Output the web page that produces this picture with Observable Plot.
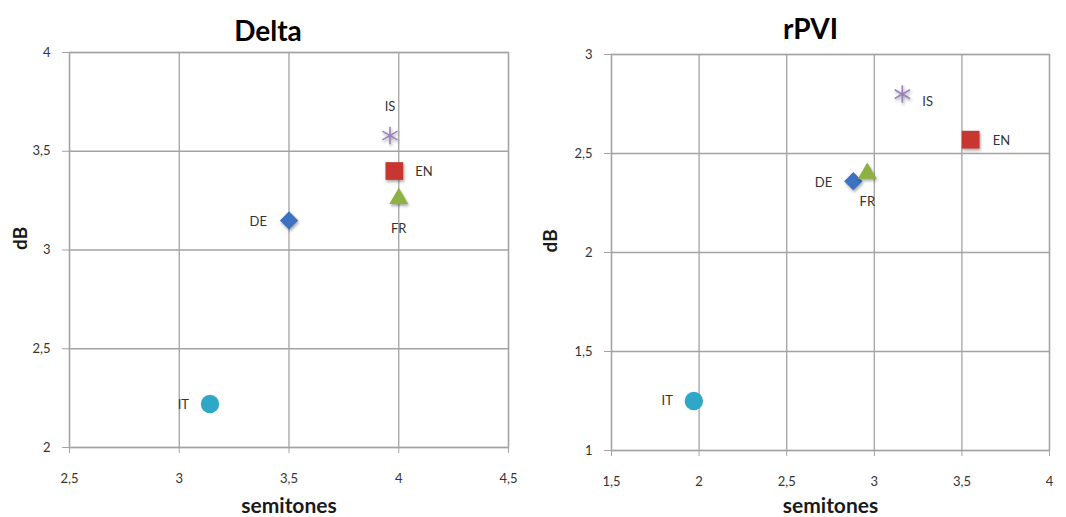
<!DOCTYPE html>
<html><head><meta charset="utf-8">
<script src="https://cdn.jsdelivr.net/npm/d3@7"></script>
<script src="https://cdn.jsdelivr.net/npm/@observablehq/plot@0.6"></script>
<style>
body{margin:0;background:#fff;}
#wrap{position:relative;width:1066px;height:517px;overflow:hidden;}
.panel{position:absolute;top:0;width:533px;height:517px;}
svg g[aria-label="dot"] path{filter:drop-shadow(1.5px 2px 1.5px rgba(0,0,0,0.35));}
</style></head><body><div id="wrap"></div>
<script>
// ---- data ----
const languages = ["DE", "EN", "FR", "IS", "IT"];
const deltaSemitones = [3.50, 3.98, 4.00, 3.96, 3.14];
const deltaDb = [3.15, 3.40, 3.26, 3.58, 2.22];
const rpviSemitones = [2.88, 3.55, 2.96, 3.16, 1.97];
const rpviDb = [2.36, 2.57, 2.40, 2.80, 1.25];
const deltaXTicks = [2.5, 3, 3.5, 4, 4.5];
const deltaYTicks = [2, 2.5, 3, 3.5, 4];
const rpviXTicks = [1.5, 2, 2.5, 3, 3.5, 4];
const rpviYTicks = [1, 1.5, 2, 2.5, 3];
const titles = ["Delta", "rPVI"];
const xLabel = "semitones";
const yLabel = "dB";

// ---- styles ----
const FONT = "Lato, 'Open Sans', sans-serif";
const GRID = "#a3a3a3";
const TEXT = "#333333";
const markerStyle = {
  DE: {color: "#3c72c0", symbol: "diamond2", r: 8.2},
  EN: {color: "#c8372f", symbol: "square", r: 10},
  FR: {color: "#8eb241", symbol: "triangle", r: 7},
  IS: {color: "#9883bf", symbol: "asterisk", r: 8.3},
  IT: {color: "#2fa7c7", symbol: "circle", r: 9.2}
};
const panels = [
  {title: titles[0], xs: deltaSemitones, ys: deltaDb, xTicks: deltaXTicks, yTicks: deltaYTicks,
   left: 0, m: {top: 52, right: 25, bottom: 70, left: 69}, titleDx: -21, titleDy: -12, yLabelDx: -49, xLabelDy: 59,
   labels: {DE: ["end", -22, 1], EN: ["start", 21, 1], FR: ["middle", 0, 30], IS: ["middle", 0, -29], IT: ["end", -21, 1]}},
  {title: titles[1], xs: rpviSemitones, ys: rpviDb, xTicks: rpviXTicks, yTicks: rpviYTicks,
   left: 533, m: {top: 54, right: 17, bottom: 67, left: 78}, titleDx: -20, titleDy: -16, yLabelDx: -61, xLabelDy: 56,
   labels: {DE: ["end", -21, 2], EN: ["start", 22, 1], FR: ["middle", 0, 29], IS: ["start", 20, 8], IT: ["end", -21, 0]}}
];

const fmt = d => String(d).replace(".", ",");
const wrap = document.getElementById("wrap");

for (const p of panels) {
  const rows = languages.map((lang, i) => ({lang, x: p.xs[i], y: p.ys[i]}));
  const [xmin, xmax] = d3.extent(p.xTicks);
  const [ymin, ymax] = d3.extent(p.yTicks);
  const marks = [
    Plot.gridX(p.xTicks, {stroke: GRID, strokeOpacity: 1, strokeWidth: 1.3}),
    Plot.gridY(p.yTicks, {stroke: GRID, strokeOpacity: 1, strokeWidth: 1.3}),
    Plot.frame({stroke: GRID, strokeWidth: 1.3}),
    Plot.axisX({ticks: p.xTicks, tickFormat: fmt, tickSize: 6, tickPadding: 20, label: null,
      stroke: GRID, fill: TEXT, fontSize: 13}),
    Plot.axisY({ticks: p.yTicks, tickFormat: fmt, tickSize: 7, tickPadding: 12, label: null,
      stroke: GRID, fill: TEXT, fontSize: 13}),
    Plot.text([p.title], {frameAnchor: "top", dx: p.titleDx, dy: p.titleDy, lineAnchor: "bottom",
      fontSize: 28, fontWeight: "bold", fill: "#000"}),
    Plot.text([xLabel], {frameAnchor: "bottom", dy: p.xLabelDy, lineAnchor: "middle",
      fontSize: 21, fontWeight: "bold", fill: "#1a1a1a"}),
    Plot.text([yLabel], {frameAnchor: "left", dx: p.yLabelDx, rotate: -90,
      fontSize: 19, fontWeight: "bold", fill: "#1a1a1a"})
  ];
  for (const r of rows) {
    const s = markerStyle[r.lang];
    const stroked = s.symbol === "asterisk";
    marks.push(Plot.dot([r], {x: "x", y: "y", symbol: s.symbol, r: s.r,
      fill: stroked ? "none" : s.color, stroke: stroked ? s.color : "none", strokeWidth: stroked ? 1.6 : 0}));
    const [anchor, dx, dy] = p.labels[r.lang];
    marks.push(Plot.text([r], {x: "x", y: "y", text: "lang", textAnchor: anchor, dx, dy,
      fontSize: 13, fill: TEXT}));
  }
  const chart = Plot.plot({
    width: 533, height: 517,
    marginTop: p.m.top, marginRight: p.m.right, marginBottom: p.m.bottom, marginLeft: p.m.left,
    style: {fontFamily: FONT, background: "#fff", overflow: "visible"},
    x: {domain: [xmin, xmax]},
    y: {domain: [ymin, ymax]},
    marks
  });
  const div = document.createElement("div");
  div.className = "panel";
  div.style.left = p.left + "px";
  div.appendChild(chart);
  wrap.appendChild(div);
}
</script></body></html>
